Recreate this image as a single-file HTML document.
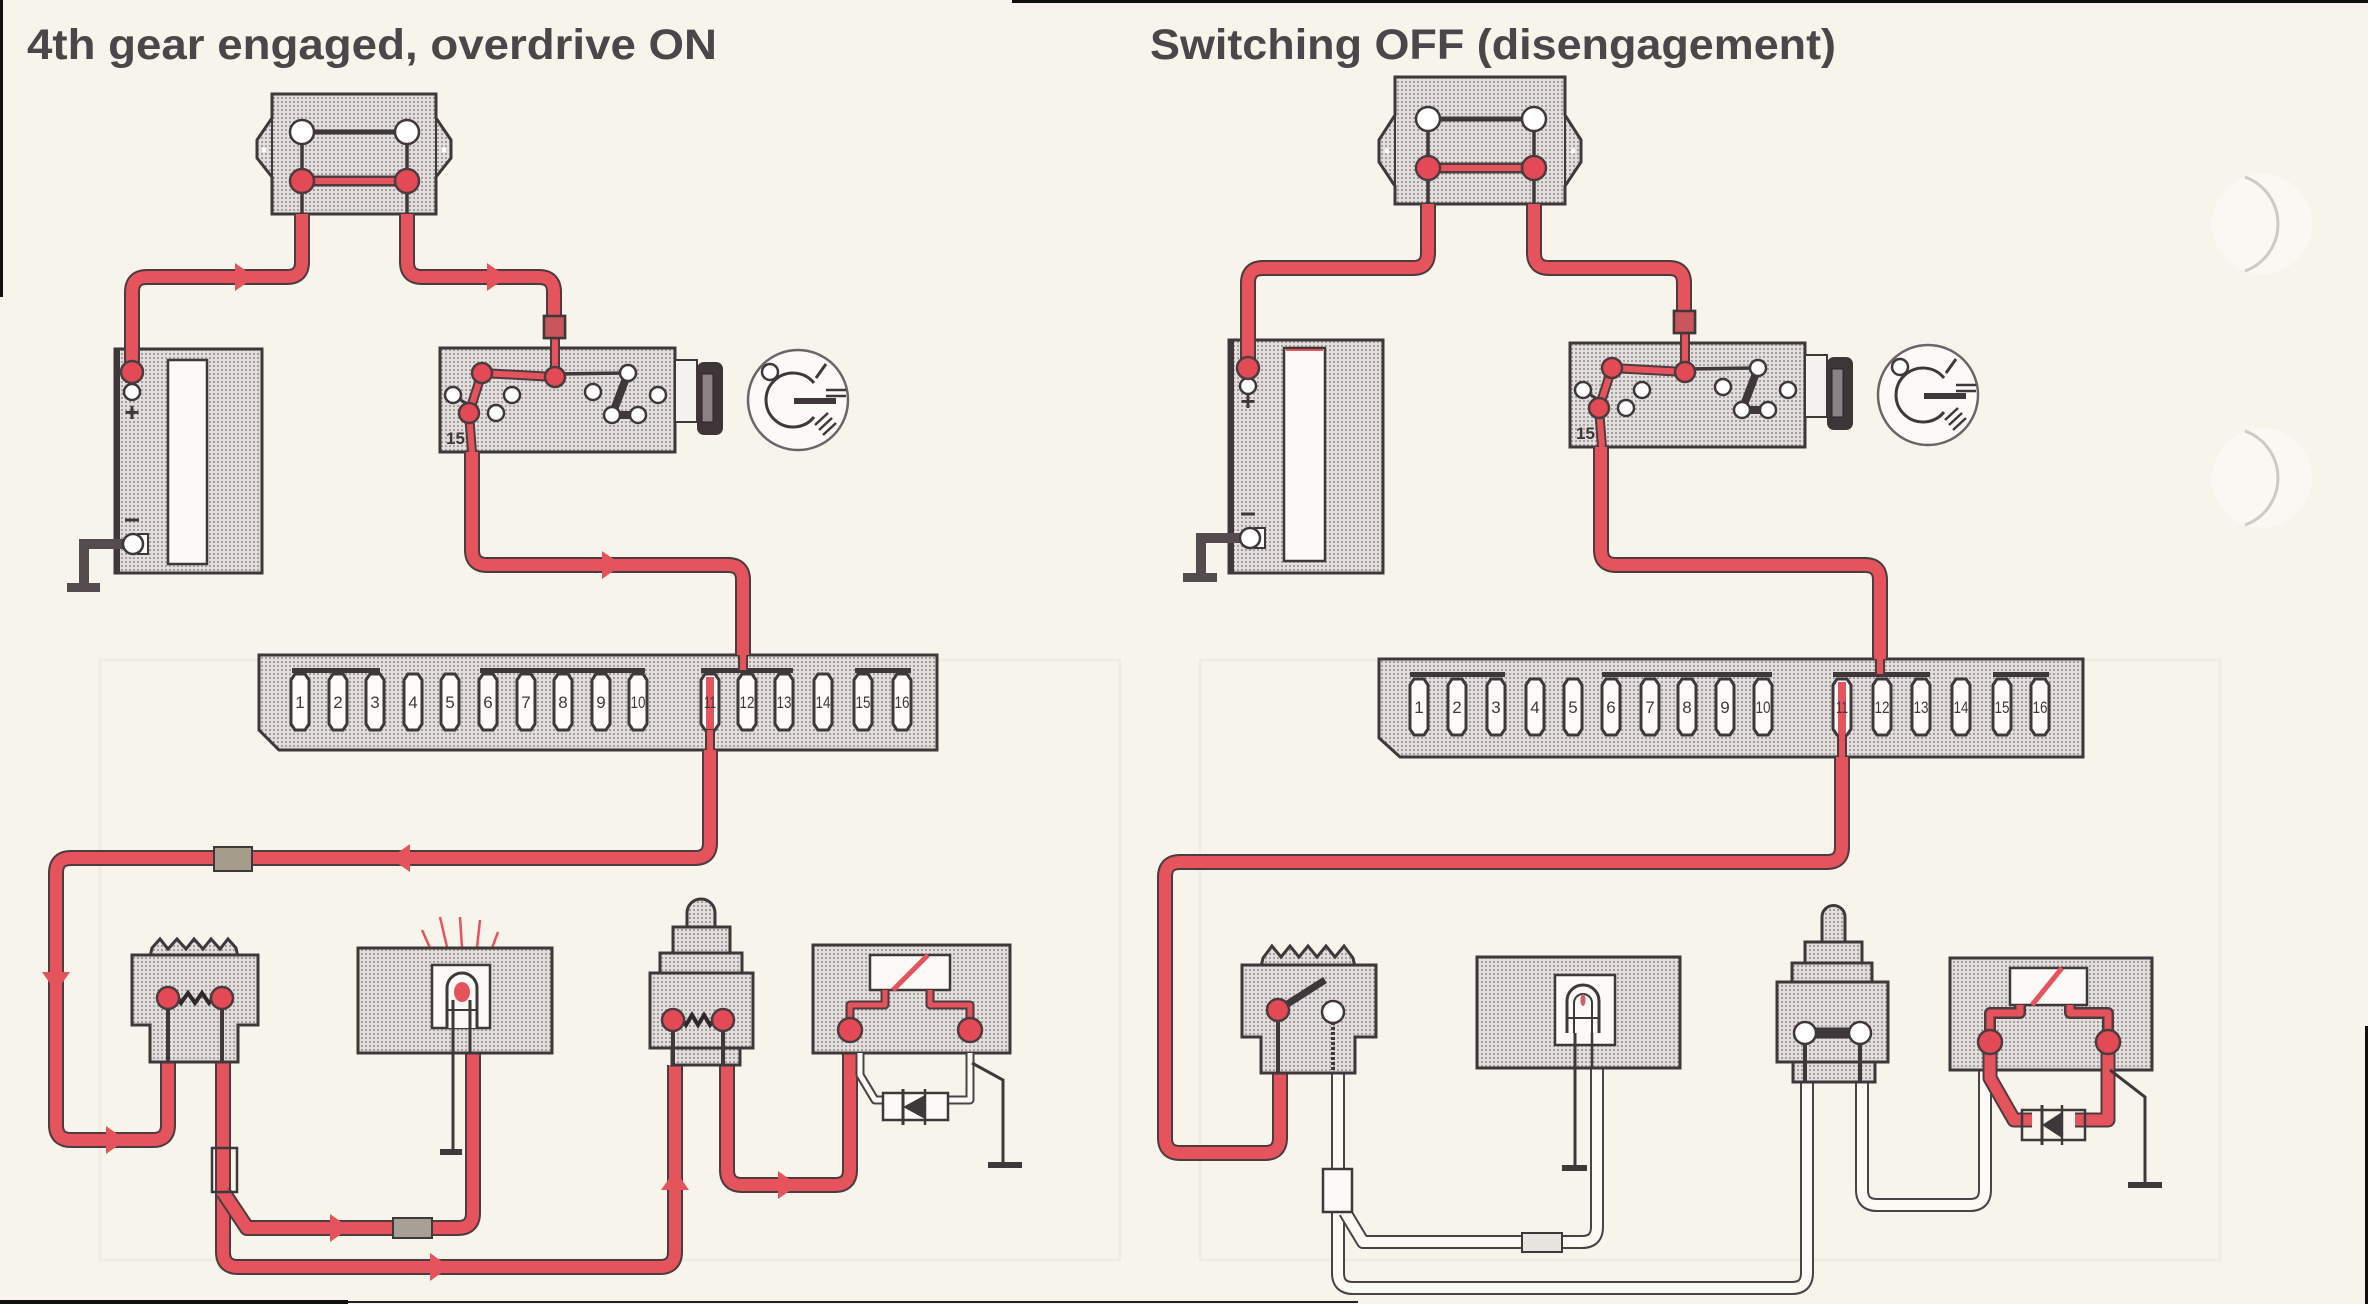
<!DOCTYPE html>
<html><head><meta charset="utf-8"><style>
html,body{margin:0;padding:0;background:#f7f4ec;overflow:hidden}
svg{display:block}
.g{fill:url(#dots);stroke:#3f383b;stroke-width:3}
.wo{fill:none;stroke:#4d3b3f;stroke-width:16;stroke-linejoin:round}
.wr{fill:none;stroke:#e5545c;stroke-width:12;stroke-linejoin:round}
.two{fill:none;stroke:#4d3b3f;stroke-width:10;stroke-linejoin:round}
.tr{fill:none;stroke:#e5545c;stroke-width:6;stroke-linejoin:round}
.wwo{fill:none;stroke:#4a4246;stroke-width:14;stroke-linejoin:round}
.ww{fill:none;stroke:#fbfaf5;stroke-width:10;stroke-linejoin:round}
.swo{fill:none;stroke:#4a4246;stroke-width:9;stroke-linejoin:round}
.sw{fill:none;stroke:#fbfaf5;stroke-width:5;stroke-linejoin:round}
.rt{fill:#e34a55;stroke:#4d3b3f;stroke-width:2.5}
.wt{fill:#ffffff;stroke:#3f383b;stroke-width:2.5}
.ar{fill:#e5545c}
.gnd{fill:none;stroke:#544b4f;stroke-width:4}
.ttl{font-family:"Liberation Sans",Arial,sans-serif;font-weight:bold;font-size:43px;fill:#4b4649}
.fn{font-family:"Liberation Sans",Arial,sans-serif;font-size:17px;fill:#3f383b;text-anchor:middle}
</style></head><body>
<svg width="2368" height="1304" viewBox="0 0 2368 1304" xmlns="http://www.w3.org/2000/svg">
<defs>
<pattern id="dots" width="4" height="4" patternUnits="userSpaceOnUse"><rect width="4" height="4" fill="#e2dfdc"/><circle cx="2" cy="2" r="1.1" fill="#9e9899"/></pattern>
<path id="fz" d="M-9,-22 L-5,-28 L5,-28 L9,-22 L9,22 L5,28 L-5,28 L-9,22 Z" fill="#fdfcf9" stroke="#3f383b" stroke-width="3"/>
<g id="ign">
 <rect class="g" x="440" y="348" width="235" height="104"/>
 <rect x="675" y="360" width="22" height="62" fill="#f4f2ee" stroke="#3f383b" stroke-width="2"/>
 <rect x="697" y="362" width="26" height="73" rx="7" fill="#3e3539"/>
 <rect x="702" y="374" width="11" height="48" fill="#8a8285" stroke="#2a2326" stroke-width="1"/>
 <circle cx="798" cy="400" r="50" fill="#fbfaf6" stroke="#6b6468" stroke-width="2.5"/>
 <path d="M814,383 A27,27 0 1 0 814,417" fill="none" stroke="#3f383b" stroke-width="3"/>
 <line x1="794" y1="401" x2="836" y2="401" stroke="#3f383b" stroke-width="6"/>
 <line x1="826" y1="390" x2="846" y2="390" stroke="#3f383b" stroke-width="2.5"/>
 <line x1="826" y1="396" x2="846" y2="396" stroke="#3f383b" stroke-width="2.5"/>
 <line x1="816" y1="378" x2="826" y2="364" stroke="#3f383b" stroke-width="3"/>
 <line x1="815" y1="425" x2="828" y2="413" stroke="#3f383b" stroke-width="2.5"/>
 <line x1="819" y1="430" x2="832" y2="418" stroke="#3f383b" stroke-width="2.5"/>
 <line x1="823" y1="435" x2="836" y2="423" stroke="#3f383b" stroke-width="2.5"/>
 <circle cx="770" cy="372" r="8" class="wt"/>
 <line x1="555" y1="374" x2="628" y2="373" stroke="#3f383b" stroke-width="3.5"/>
 <line x1="453" y1="395" x2="467" y2="404" stroke="#3f383b" stroke-width="3"/>
 <path class="two" d="M555,336 L555,377 L482,373 L469,413 L472,452"/>
 <path class="tr" d="M555,336 L555,377 L482,373 L469,413 L472,452"/>
 <rect x="544" y="316" width="21" height="22" fill="#c9565c" stroke="#3f383b" stroke-width="2.5"/>
 <line x1="628" y1="373" x2="612" y2="415" stroke="#3f383b" stroke-width="8"/>
 <line x1="612" y1="415" x2="638" y2="415" stroke="#3f383b" stroke-width="8"/>
 <circle cx="482" cy="373" r="10" class="rt"/>
 <circle cx="555" cy="377" r="10" class="rt"/>
 <circle cx="469" cy="413" r="10" class="rt"/>
 <circle cx="453" cy="395" r="8" class="wt"/>
 <circle cx="512" cy="395" r="8" class="wt"/>
 <circle cx="496" cy="413" r="8" class="wt"/>
 <circle cx="593" cy="392" r="8" class="wt"/>
 <circle cx="658" cy="395" r="8" class="wt"/>
 <circle cx="628" cy="373" r="8" class="wt"/>
 <circle cx="612" cy="415" r="8" class="wt"/>
 <circle cx="638" cy="415" r="8" class="wt"/>
</g>
</defs>

<rect width="2368" height="1304" fill="#f7f4ec"/>
<!-- faint background marks -->
<g fill="none" stroke="#efece4" stroke-width="3">
 <rect x="100" y="660" width="1020" height="600"/>
 <rect x="1200" y="660" width="1020" height="600"/>
</g>

<!-- border lines -->
<rect x="0" y="0" width="3" height="297" fill="#111"/>
<rect x="1012" y="0" width="1356" height="3" fill="#111"/>
<rect x="0" y="1300" width="348" height="4" fill="#111"/>
<rect x="348" y="1301" width="1010" height="2" fill="#222"/>
<rect x="2365" y="1026" width="3" height="278" fill="#111"/>

<!-- punch holes -->
<circle cx="2262" cy="224" r="50" fill="#faf8f3"/>
<path d="M2245,177 A50,50 0 0 1 2245,271" fill="none" stroke="#cdc9c3" stroke-width="3"/>
<circle cx="2262" cy="478" r="50" fill="#faf8f3"/>
<path d="M2245,431 A50,50 0 0 1 2245,525" fill="none" stroke="#cdc9c3" stroke-width="3"/>

<!-- titles -->
<text class="ttl" x="27" y="59" textLength="690" lengthAdjust="spacingAndGlyphs">4th gear engaged, overdrive ON</text>
<text class="ttl" x="1150" y="59" textLength="686" lengthAdjust="spacingAndGlyphs">Switching OFF (disengagement)</text>

<!-- ================= LEFT PANEL ================= -->
<polygon class="g" points="272,94 436,94 436,118 451,140 451,158 436,177 436,214 272,214 272,177 257,158 257,140 272,118"/>
<line x1="272" y1="118" x2="272" y2="177" stroke="#3f383b" stroke-width="2"/>
<line x1="436" y1="118" x2="436" y2="177" stroke="#3f383b" stroke-width="2"/>
<circle cx="264" cy="150" r="2.5" fill="#fff"/><circle cx="444" cy="150" r="2.5" fill="#fff"/>
<line x1="302" y1="132" x2="407" y2="132" stroke="#3f383b" stroke-width="5"/>
<line x1="302" y1="132" x2="302" y2="214" stroke="#3f383b" stroke-width="3.5"/>
<line x1="407" y1="132" x2="407" y2="214" stroke="#3f383b" stroke-width="3.5"/>
<line x1="302" y1="181" x2="407" y2="181" stroke="#4d3b3f" stroke-width="11"/>
<line x1="302" y1="181" x2="407" y2="181" stroke="#e5545c" stroke-width="6"/>
<circle cx="302" cy="132" r="12" class="wt"/><circle cx="407" cy="132" r="12" class="wt"/>
<circle cx="302" cy="181" r="12" class="rt"/><circle cx="407" cy="181" r="12" class="rt"/>

<rect class="g" x="115" y="349" width="147" height="224"/>
<line x1="117" y1="349" x2="117" y2="573" stroke="#3f383b" stroke-width="6"/>
<rect x="168" y="360" width="39" height="204" fill="#fbfaf6" stroke="#3f383b" stroke-width="2.5"/>
<path class="gnd" d="M125,544 L84,544 L84,587" style="stroke-width:10"/>
<rect x="67" y="583" width="33" height="9" fill="#544b4f"/>
<circle cx="132" cy="392" r="8" class="wt"/>
<text x="132" y="421" font-family="Liberation Sans, sans-serif" font-weight="bold" font-size="26" fill="#3f383b" text-anchor="middle">+</text>
<line x1="125" y1="520" x2="139" y2="520" stroke="#3f383b" stroke-width="3"/>
<rect x="138" y="534" width="10" height="20" fill="#fff" stroke="#3f383b" stroke-width="2"/>
<circle cx="133" cy="544" r="10" class="wt"/>

<use href="#ign"/>
<text x="446" y="444" font-family="Liberation Sans, sans-serif" font-size="17" font-weight="bold" fill="#3f383b">15</text>

<polygon class="g" points="259,655 937,655 937,750 279,750 259,730"/>
<g fill="#3f383b"><rect x="292" y="668" width="88" height="5"/><rect x="480" y="668" width="165" height="5"/><rect x="701" y="668" width="92" height="5"/><rect x="855" y="668" width="56" height="5"/></g>
<use href="#fz" transform="translate(300,702)"/><use href="#fz" transform="translate(338,702)"/><use href="#fz" transform="translate(375,702)"/><use href="#fz" transform="translate(413,702)"/><use href="#fz" transform="translate(450,702)"/><use href="#fz" transform="translate(488,702)"/><use href="#fz" transform="translate(526,702)"/><use href="#fz" transform="translate(563,702)"/><use href="#fz" transform="translate(601,702)"/><use href="#fz" transform="translate(638,702)"/><use href="#fz" transform="translate(710,702)"/><use href="#fz" transform="translate(747,702)"/><use href="#fz" transform="translate(784,702)"/><use href="#fz" transform="translate(823,702)"/><use href="#fz" transform="translate(863,702)"/><use href="#fz" transform="translate(902,702)"/>
<g class="fn"><text x="300" y="708">1</text><text x="338" y="708">2</text><text x="375" y="708">3</text><text x="413" y="708">4</text><text x="450" y="708">5</text><text x="488" y="708">6</text><text x="526" y="708">7</text><text x="563" y="708">8</text><text x="601" y="708">9</text><text x="638" y="708" textLength="15" lengthAdjust="spacingAndGlyphs">10</text><text x="747" y="708" textLength="15" lengthAdjust="spacingAndGlyphs">12</text><text x="784" y="708" textLength="15" lengthAdjust="spacingAndGlyphs">13</text><text x="823" y="708" textLength="15" lengthAdjust="spacingAndGlyphs">14</text><text x="863" y="708" textLength="15" lengthAdjust="spacingAndGlyphs">15</text><text x="902" y="708" textLength="15" lengthAdjust="spacingAndGlyphs">16</text></g>
<rect x="706" y="677" width="8" height="52" fill="#e5545c"/>
<text x="710" y="708" class="fn" textLength="12" lengthAdjust="spacingAndGlyphs">11</text>
<path class="two" d="M743,650 L743,670"/><path class="tr" d="M743,650 L743,670"/>
<path class="two" d="M710,730 L710,752"/><path class="tr" d="M710,730 L710,752"/>

<path class="wo" d="M302,214 L302,262 Q302,277 287,277 L147,277 Q132,277 132,292 L132,372"/>
<path class="wr" d="M302,214 L302,262 Q302,277 287,277 L147,277 Q132,277 132,292 L132,372"/>
<circle cx="132" cy="372" r="11" class="rt"/>
<path class="wo" d="M407,214 L407,262 Q407,277 422,277 L539,277 Q554,277 554,292 L554,318"/>
<path class="wr" d="M407,214 L407,262 Q407,277 422,277 L539,277 Q554,277 554,292 L554,318"/>
<rect x="544" y="316" width="21" height="22" fill="#c9565c" stroke="#3f383b" stroke-width="2.5"/>
<path class="wo" d="M472,452 L472,550 Q472,565 487,565 L728,565 Q743,565 743,580 L743,655"/>
<path class="wr" d="M472,452 L472,550 Q472,565 487,565 L728,565 Q743,565 743,580 L743,655"/>

<path class="wo" d="M710,750 L710,843 Q710,858 695,858 L71,858 Q56,858 56,873 L56,1125 Q56,1140 71,1140 L153,1140 Q168,1140 168,1125 L168,1062"/>
<path class="wr" d="M710,750 L710,843 Q710,858 695,858 L71,858 Q56,858 56,873 L56,1125 Q56,1140 71,1140 L153,1140 Q168,1140 168,1125 L168,1062"/>
<rect x="214" y="847" width="38" height="24" fill="#a59c8c" stroke="#3f383b" stroke-width="2"/>
<path class="wo" d="M223,1062 L223,1252 Q223,1267 238,1267 L660,1267 Q675,1267 675,1252 L675,1065"/>
<path class="wr" d="M223,1062 L223,1252 Q223,1267 238,1267 L660,1267 Q675,1267 675,1252 L675,1065"/>
<path class="wo" d="M223,1192 L247,1228 L458,1228 Q473,1228 473,1213 L473,1053"/>
<path class="wr" d="M223,1192 L247,1228 L458,1228 Q473,1228 473,1213 L473,1053"/>
<rect x="212" y="1148" width="25" height="44" fill="none" stroke="#3f383b" stroke-width="2.5"/>
<rect x="393" y="1218" width="39" height="20" fill="#a89f95" stroke="#3f383b" stroke-width="2"/>
<path class="wo" d="M727,1065 L727,1170 Q727,1185 742,1185 L835,1185 Q850,1185 850,1170 L850,1053"/>
<path class="wr" d="M727,1065 L727,1170 Q727,1185 742,1185 L835,1185 Q850,1185 850,1170 L850,1053"/>

<polygon class="ar" points="235,263 255,277 235,291"/>
<polygon class="ar" points="487,263 507,277 487,291"/>
<polygon class="ar" points="602,551 622,565 602,579"/>
<polygon class="ar" points="410,844 390,858 410,872"/>
<polygon class="ar" points="42,972 56,992 70,972"/>
<polygon class="ar" points="106,1126 126,1140 106,1154"/>
<polygon class="ar" points="330,1214 350,1228 330,1242"/>
<polygon class="ar" points="430,1253 450,1267 430,1281"/>
<polygon class="ar" points="661,1190 675,1170 689,1190"/>
<polygon class="ar" points="778,1171 798,1185 778,1199"/>

<path class="g" d="M150,957 L152,948 L160,939 L168,949 L177,939 L186,949 L194,939 L203,949 L211,939 L220,949 L228,939 L236,948 L238,957 Z"/>
<polygon class="g" points="132,955 258,955 258,1025 238,1025 238,1062 150,1062 150,1025 132,1025"/>
<line x1="168" y1="998" x2="168" y2="1062" stroke="#3f383b" stroke-width="4"/>
<line x1="222" y1="998" x2="222" y2="1062" stroke="#3f383b" stroke-width="4"/>
<path d="M168,998 L175,993 L181,1003 L188,993 L195,1003 L202,993 L209,1003 L215,996 L222,998" fill="none" stroke="#2f282b" stroke-width="4"/>
<circle cx="168" cy="998" r="11" class="rt"/><circle cx="222" cy="998" r="11" class="rt"/>

<g stroke="#e5545c" stroke-width="2.5"><line x1="422" y1="930" x2="430" y2="948"/><line x1="440" y1="917" x2="447" y2="947"/><line x1="460" y1="917" x2="462" y2="948"/><line x1="480" y1="920" x2="477" y2="948"/><line x1="498" y1="932" x2="492" y2="948"/></g>
<rect class="g" x="358" y="948" width="194" height="105"/>
<rect x="432" y="965" width="58" height="63" fill="#fbfaf6" stroke="#3f383b" stroke-width="2.5"/>
<path d="M447,1028 L447,988 A15,15 0 0 1 477,988 L477,1028" fill="#fbfaf6" stroke="#3f383b" stroke-width="3"/>
<ellipse cx="462" cy="992" rx="8" ry="10" fill="#e5545c"/>
<line x1="453" y1="1000" x2="453" y2="1152" stroke="#3f383b" stroke-width="3"/>
<line x1="470" y1="1000" x2="470" y2="1053" stroke="#3f383b" stroke-width="3"/>
<line x1="447" y1="1010" x2="477" y2="1010" stroke="#3f383b" stroke-width="2"/>
<rect x="440" y="1149" width="22" height="6" fill="#3f383b"/>

<rect class="g" x="672" y="1048" width="68" height="17"/>
<rect class="g" x="650" y="973" width="103" height="75"/>
<rect class="g" x="660" y="953" width="82" height="20"/>
<rect class="g" x="673" y="927" width="57" height="26"/>
<path class="g" d="M687,927 L687,913 A14,14 0 0 1 715,913 L715,927 Z"/>
<line x1="673" y1="1020" x2="673" y2="1065" stroke="#3f383b" stroke-width="4"/>
<line x1="723" y1="1020" x2="723" y2="1065" stroke="#3f383b" stroke-width="4"/>
<path d="M673,1020 L680,1015 L686,1025 L692,1015 L698,1025 L704,1015 L710,1025 L716,1017 L723,1020" fill="none" stroke="#2f282b" stroke-width="4"/>
<circle cx="673" cy="1020" r="11" class="rt"/><circle cx="723" cy="1020" r="11" class="rt"/>

<rect class="g" x="813" y="945" width="197" height="108"/>
<rect x="870" y="955" width="80" height="35" fill="#fbfaf6" stroke="#3f383b" stroke-width="2.5"/>
<line x1="893" y1="990" x2="928" y2="955" stroke="#e5545c" stroke-width="5"/>
<path class="two" d="M850,1030 L850,1005 L885,1005 L885,990" style="stroke-width:9"/>
<path class="tr" d="M850,1030 L850,1005 L885,1005 L885,990" style="stroke-width:5"/>
<path class="two" d="M970,1030 L970,1005 L930,1005 L930,990" style="stroke-width:9"/>
<path class="tr" d="M970,1030 L970,1005 L930,1005 L930,990" style="stroke-width:5"/>
<circle cx="850" cy="1030" r="12" class="rt"/><circle cx="970" cy="1030" r="12" class="rt"/>
<path class="swo" d="M860,1053 L860,1075 L875,1100 L885,1100"/><path class="sw" d="M860,1053 L860,1075 L875,1100 L885,1100"/>
<path class="swo" d="M946,1100 L970,1100 L970,1053"/><path class="sw" d="M946,1100 L970,1100 L970,1053"/>
<rect x="883" y="1093" width="65" height="27" fill="#fbfaf6" stroke="#3f383b" stroke-width="2.5"/>
<polygon points="903,1107 925,1095 925,1119" fill="#3f383b"/>
<line x1="903" y1="1089" x2="903" y2="1125" stroke="#3f383b" stroke-width="3"/>
<line x1="925" y1="1089" x2="925" y2="1125" stroke="#3f383b" stroke-width="2.5"/>
<path d="M972,1063 L1003,1080 L1003,1165" fill="none" stroke="#3f383b" stroke-width="3"/>
<rect x="988" y="1162" width="34" height="6" fill="#3f383b"/>

<!-- ================= RIGHT PANEL ================= -->
<polygon class="g" points="1395,77 1565,77 1565,115 1581,140 1581,162 1565,186 1565,204 1395,204 1395,186 1379,162 1379,140 1395,115"/>
<line x1="1395" y1="115" x2="1395" y2="186" stroke="#3f383b" stroke-width="2"/>
<line x1="1565" y1="115" x2="1565" y2="186" stroke="#3f383b" stroke-width="2"/>
<circle cx="1387" cy="151" r="2.5" fill="#fff"/><circle cx="1573" cy="151" r="2.5" fill="#fff"/>
<line x1="1428" y1="119" x2="1534" y2="119" stroke="#3f383b" stroke-width="5"/>
<line x1="1428" y1="119" x2="1428" y2="204" stroke="#3f383b" stroke-width="3.5"/>
<line x1="1534" y1="119" x2="1534" y2="204" stroke="#3f383b" stroke-width="3.5"/>
<line x1="1428" y1="168" x2="1534" y2="168" stroke="#4d3b3f" stroke-width="11"/>
<line x1="1428" y1="168" x2="1534" y2="168" stroke="#e5545c" stroke-width="6"/>
<circle cx="1428" cy="119" r="12" class="wt"/><circle cx="1534" cy="119" r="12" class="wt"/>
<circle cx="1428" cy="168" r="12" class="rt"/><circle cx="1534" cy="168" r="12" class="rt"/>

<rect class="g" x="1229" y="340" width="154" height="233"/>
<line x1="1231" y1="340" x2="1231" y2="573" stroke="#3f383b" stroke-width="6"/>
<rect x="1284" y="348" width="41" height="213" fill="#fbfaf6" stroke="#3f383b" stroke-width="2.5"/>
<line x1="1286" y1="350" x2="1323" y2="350" stroke="#e5545c" stroke-width="2"/>
<path class="gnd" d="M1240,538 L1201,538 L1201,577" style="stroke-width:10"/>
<rect x="1183" y="573" width="34" height="9" fill="#544b4f"/>
<circle cx="1248" cy="386" r="8" class="wt"/>
<text x="1248" y="410" font-family="Liberation Sans, sans-serif" font-weight="bold" font-size="26" fill="#3f383b" text-anchor="middle">+</text>
<line x1="1241" y1="514" x2="1255" y2="514" stroke="#3f383b" stroke-width="3"/>
<rect x="1255" y="528" width="10" height="20" fill="#fff" stroke="#3f383b" stroke-width="2"/>
<circle cx="1250" cy="538" r="10" class="wt"/>

<use href="#ign" transform="translate(1130,-5)"/>
<text x="1576" y="439" font-family="Liberation Sans, sans-serif" font-size="17" font-weight="bold" fill="#3f383b">15</text>

<polygon class="g" points="1379,659 2083,659 2083,757 1400,757 1379,738"/>
<g fill="#3f383b"><rect x="1410" y="672" width="95" height="5"/><rect x="1602" y="672" width="170" height="5"/><rect x="1833" y="672" width="97" height="5"/><rect x="1993" y="672" width="56" height="5"/></g>
<use href="#fz" transform="translate(1419,707)"/><use href="#fz" transform="translate(1457,707)"/><use href="#fz" transform="translate(1496,707)"/><use href="#fz" transform="translate(1535,707)"/><use href="#fz" transform="translate(1573,707)"/><use href="#fz" transform="translate(1611,707)"/><use href="#fz" transform="translate(1650,707)"/><use href="#fz" transform="translate(1687,707)"/><use href="#fz" transform="translate(1725,707)"/><use href="#fz" transform="translate(1763,707)"/><use href="#fz" transform="translate(1842,707)"/><use href="#fz" transform="translate(1882,707)"/><use href="#fz" transform="translate(1921,707)"/><use href="#fz" transform="translate(1961,707)"/><use href="#fz" transform="translate(2002,707)"/><use href="#fz" transform="translate(2040,707)"/>
<g class="fn"><text x="1419" y="713">1</text><text x="1457" y="713">2</text><text x="1496" y="713">3</text><text x="1535" y="713">4</text><text x="1573" y="713">5</text><text x="1611" y="713">6</text><text x="1650" y="713">7</text><text x="1687" y="713">8</text><text x="1725" y="713">9</text><text x="1763" y="713" textLength="15" lengthAdjust="spacingAndGlyphs">10</text><text x="1882" y="713" textLength="15" lengthAdjust="spacingAndGlyphs">12</text><text x="1921" y="713" textLength="15" lengthAdjust="spacingAndGlyphs">13</text><text x="1961" y="713" textLength="15" lengthAdjust="spacingAndGlyphs">14</text><text x="2002" y="713" textLength="15" lengthAdjust="spacingAndGlyphs">15</text><text x="2040" y="713" textLength="15" lengthAdjust="spacingAndGlyphs">16</text></g>
<rect x="1838" y="682" width="8" height="52" fill="#e5545c"/>
<text x="1842" y="713" class="fn" textLength="12" lengthAdjust="spacingAndGlyphs">11</text>
<path class="two" d="M1880,654 L1880,674"/><path class="tr" d="M1880,654 L1880,674"/>
<path class="two" d="M1842,734 L1842,759"/><path class="tr" d="M1842,734 L1842,759"/>

<path class="wo" d="M1428,204 L1428,253 Q1428,268 1413,268 L1263,268 Q1248,268 1248,283 L1248,368"/>
<path class="wr" d="M1428,204 L1428,253 Q1428,268 1413,268 L1263,268 Q1248,268 1248,283 L1248,368"/>
<circle cx="1248" cy="368" r="11" class="rt"/>
<path class="wo" d="M1534,204 L1534,253 Q1534,268 1549,268 L1669,268 Q1684,268 1684,283 L1684,313"/>
<path class="wr" d="M1534,204 L1534,253 Q1534,268 1549,268 L1669,268 Q1684,268 1684,283 L1684,313"/>
<rect x="1674" y="311" width="21" height="22" fill="#c9565c" stroke="#3f383b" stroke-width="2.5"/>
<path class="wo" d="M1601,447 L1601,550 Q1601,565 1616,565 L1865,565 Q1880,565 1880,580 L1880,659"/>
<path class="wr" d="M1601,447 L1601,550 Q1601,565 1616,565 L1865,565 Q1880,565 1880,580 L1880,659"/>
<path class="wo" d="M1842,757 L1842,847 Q1842,862 1827,862 L1180,862 Q1165,862 1165,877 L1165,1138 Q1165,1153 1180,1153 L1265,1153 Q1280,1153 1280,1138 L1280,1073"/>
<path class="wr" d="M1842,757 L1842,847 Q1842,862 1827,862 L1180,862 Q1165,862 1165,877 L1165,1138 Q1165,1153 1180,1153 L1265,1153 Q1280,1153 1280,1138 L1280,1073"/>

<path class="wwo" d="M1338,1073 L1338,1273 Q1338,1288 1353,1288 L1792,1288 Q1807,1288 1807,1273 L1807,1082"/>
<path class="ww" d="M1338,1073 L1338,1273 Q1338,1288 1353,1288 L1792,1288 Q1807,1288 1807,1273 L1807,1082"/>
<path class="wwo" d="M1345,1212 L1363,1242 L1582,1242 Q1597,1242 1597,1227 L1597,1068"/>
<path class="ww" d="M1345,1212 L1363,1242 L1582,1242 Q1597,1242 1597,1227 L1597,1068"/>
<path class="wwo" d="M1862,1082 L1862,1190 Q1862,1205 1877,1205 L1970,1205 Q1985,1205 1985,1190 L1985,1070"/>
<path class="ww" d="M1862,1082 L1862,1190 Q1862,1205 1877,1205 L1970,1205 Q1985,1205 1985,1190 L1985,1070"/>
<rect x="1323" y="1169" width="29" height="43" fill="#fbfaf6" stroke="#3f383b" stroke-width="2.5"/>
<rect x="1522" y="1233" width="40" height="19" fill="#e8e4df" stroke="#3f383b" stroke-width="2"/>

<path class="g" d="M1261,967 L1263,958 L1272,946 L1281,957 L1290,946 L1299,957 L1308,946 L1317,957 L1326,946 L1335,957 L1344,946 L1353,958 L1355,967 Z"/>
<polygon class="g" points="1242,965 1376,965 1376,1037 1355,1037 1355,1073 1261,1073 1261,1037 1242,1037"/>
<line x1="1278" y1="1010" x2="1278" y2="1073" stroke="#3f383b" stroke-width="4"/>
<line x1="1333" y1="1012" x2="1333" y2="1073" stroke="#3f383b" stroke-width="4" stroke-dasharray="3,2"/>
<line x1="1278" y1="1010" x2="1325" y2="980" stroke="#3f383b" stroke-width="7"/>
<circle cx="1278" cy="1010" r="11" class="rt"/>
<circle cx="1333" cy="1012" r="11" class="wt"/>

<rect class="g" x="1477" y="957" width="203" height="111"/>
<rect x="1555" y="975" width="60" height="70" fill="#fbfaf6" stroke="#3f383b" stroke-width="2.5"/>
<path d="M1567,1033 L1567,1001 A16,16 0 0 1 1599,1001 L1599,1033" fill="#fbfaf6" stroke="#3f383b" stroke-width="3"/>
<path d="M1574,1033 L1574,1003 A9,9 0 0 1 1592,1003 L1592,1033" fill="none" stroke="#3f383b" stroke-width="2"/>
<ellipse cx="1583" cy="1000" rx="2.5" ry="6" fill="#d06068"/>
<line x1="1567" y1="1018" x2="1599" y2="1018" stroke="#3f383b" stroke-width="2"/>
<line x1="1575" y1="1033" x2="1575" y2="1168" stroke="#3f383b" stroke-width="3"/>
<line x1="1592" y1="1033" x2="1592" y2="1068" stroke="#3f383b" stroke-width="2.5"/>
<rect x="1562" y="1165" width="25" height="6" fill="#3f383b"/>

<rect class="g" x="1793" y="1062" width="82" height="20"/>
<rect class="g" x="1777" y="982" width="111" height="80"/>
<rect class="g" x="1792" y="963" width="80" height="19"/>
<rect class="g" x="1805" y="942" width="57" height="21"/>
<path class="g" d="M1822,942 L1822,917 A11.5,11.5 0 0 1 1845,917 L1845,942 Z"/>
<line x1="1805" y1="1033" x2="1805" y2="1082" stroke="#3f383b" stroke-width="4"/>
<line x1="1860" y1="1033" x2="1860" y2="1082" stroke="#3f383b" stroke-width="4"/>
<line x1="1805" y1="1033" x2="1860" y2="1033" stroke="#3f383b" stroke-width="11"/>
<circle cx="1805" cy="1033" r="11" class="wt"/><circle cx="1860" cy="1033" r="11" class="wt"/>

<rect class="g" x="1950" y="958" width="202" height="112"/>
<rect x="2010" y="968" width="77" height="37" fill="#fbfaf6" stroke="#3f383b" stroke-width="2.5"/>
<line x1="2032" y1="1005" x2="2062" y2="968" stroke="#e5545c" stroke-width="5"/>
<path class="two" d="M1990,1042 L1990,1013 L2020,1013 L2020,1005" style="stroke-width:12"/>
<path class="tr" d="M1990,1042 L1990,1013 L2020,1013 L2020,1005" style="stroke-width:7"/>
<path class="two" d="M2108,1042 L2108,1013 L2070,1013 L2070,1005" style="stroke-width:12"/>
<path class="tr" d="M2108,1042 L2108,1013 L2070,1013 L2070,1005" style="stroke-width:7"/>
<path class="wo" d="M1990,1050 L1990,1078 L2014,1120 L2032,1120" style="stroke-width:15"/>
<path class="wr" d="M1990,1050 L1990,1078 L2014,1120 L2032,1120" style="stroke-width:11"/>
<path class="wo" d="M2075,1120 L2108,1120 L2108,1050" style="stroke-width:15"/>
<path class="wr" d="M2075,1120 L2108,1120 L2108,1050" style="stroke-width:11"/>
<circle cx="1990" cy="1042" r="12" class="rt"/><circle cx="2108" cy="1042" r="12" class="rt"/>
<rect x="2022" y="1110" width="63" height="30" fill="none" stroke="#3f383b" stroke-width="2.5"/>
<polygon points="2042,1125 2062,1112 2062,1138" fill="#3f383b"/>
<line x1="2042" y1="1105" x2="2042" y2="1145" stroke="#3f383b" stroke-width="3"/>
<line x1="2062" y1="1105" x2="2062" y2="1145" stroke="#3f383b" stroke-width="2.5"/>
<path d="M2110,1070 L2145,1097 L2145,1185" fill="none" stroke="#3f383b" stroke-width="3"/>
<rect x="2128" y="1182" width="34" height="6" fill="#3f383b"/>
</svg>
</body></html>
